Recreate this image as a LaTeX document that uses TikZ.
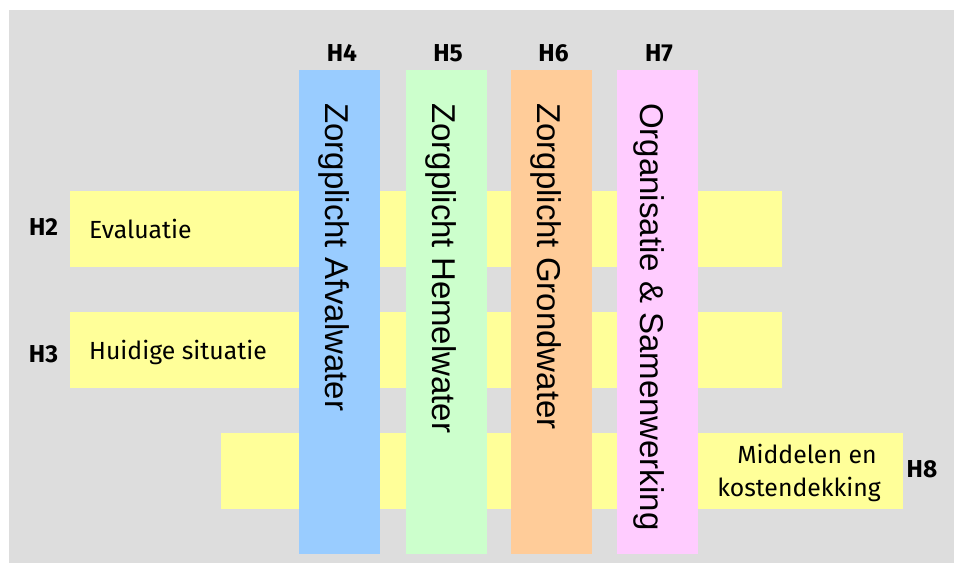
\documentclass[tikz,border=0pt]{standalone}
\usepackage{fontspec}
\setmainfont{Fira Sans}
\newfontfamily\colfont{Liberation Sans}
\definecolor{bggrey}{HTML}{DDDDDD}
\definecolor{rowyellow}{HTML}{FFFF99}
\definecolor{colblue}{HTML}{99CCFF}
\definecolor{colgreen}{HTML}{CCFFCC}
\definecolor{colorange}{HTML}{FFCC99}
\definecolor{colpink}{HTML}{FFCCFF}
\begin{document}
\begin{tikzpicture}[x=1pt,y=-1pt,
  bar/.style={draw=none, inner sep=0pt, outer sep=0pt, anchor=north west},
  rowbar/.style={bar, fill=rowyellow, minimum height=76pt},
  colbar/.style={bar, minimum width=81pt, minimum height=484pt},
  coltext/.style={rotate=-90, anchor=base west, inner sep=0pt,
    font=\colfont\fontsize{33}{33}\selectfont},
  rowtext/.style={anchor=base west, inner sep=0pt,
    font=\fontsize{24.8}{33}\selectfont},
  midtext/.style={anchor=base, inner sep=0pt,
    font=\fontsize{24.8}{33}\selectfont},
  chap/.style={anchor=base, inner sep=0pt,
    font=\bfseries\fontsize{24.5}{24.5}\selectfont}]
\useasboundingbox (0,0) rectangle (954,563);
% background panel
\fill[bggrey] (9,10) rectangle (954,563);

% horizontal themes
\node[rowbar, minimum width=712pt] (evalbar) at (70,191) {};
\node[rowbar, minimum width=712pt] (huidigbar) at (70,312) {};
\node[rowbar, minimum width=682pt] (middelbar) at (221,433) {};

\node[rowtext] (evaltxt) at (89,238) {Evaluatie};
\node[rowtext] (huidigtxt) at (89,359) {Huidige situatie};
\node[midtext] (midA) at (807,463) {Middelen en};
\node[midtext] (midB) at (799,496) {kostendekking};

% vertical themes
\node[colbar, fill=colblue]   (afval)  at (299,70) {};
\node[colbar, fill=colgreen]  (hemel)  at (406,70) {};
\node[colbar, fill=colorange] (grond)  at (511,70) {};
\node[colbar, fill=colpink]   (organ)  at (617,70) {};

\node[coltext] (afvaltxt) at (325,103) {Zorgplicht Afvalwater};
\node[coltext] (hemeltxt) at (432,103) {Zorgplicht Hemelwater};
\node[coltext] (grondtxt) at (537,103) {Zorgplicht Grondwater};
\node[coltext] (organtxt) at (640,103) {Organisatie \& Samenwerking};

% chapter numbers
\node[chap] (h2) at (43.5,235) {H2};
\node[chap] (h3) at (43.5,362) {H3};
\node[chap] (h4) at (342,61) {H4};
\node[chap] (h5) at (448,61) {H5};
\node[chap] (h6) at (553.5,61) {H6};
\node[chap] (h7) at (659,61) {H7};
\node[chap] (h8) at (922,477) {H8};
\end{tikzpicture}
\end{document}
